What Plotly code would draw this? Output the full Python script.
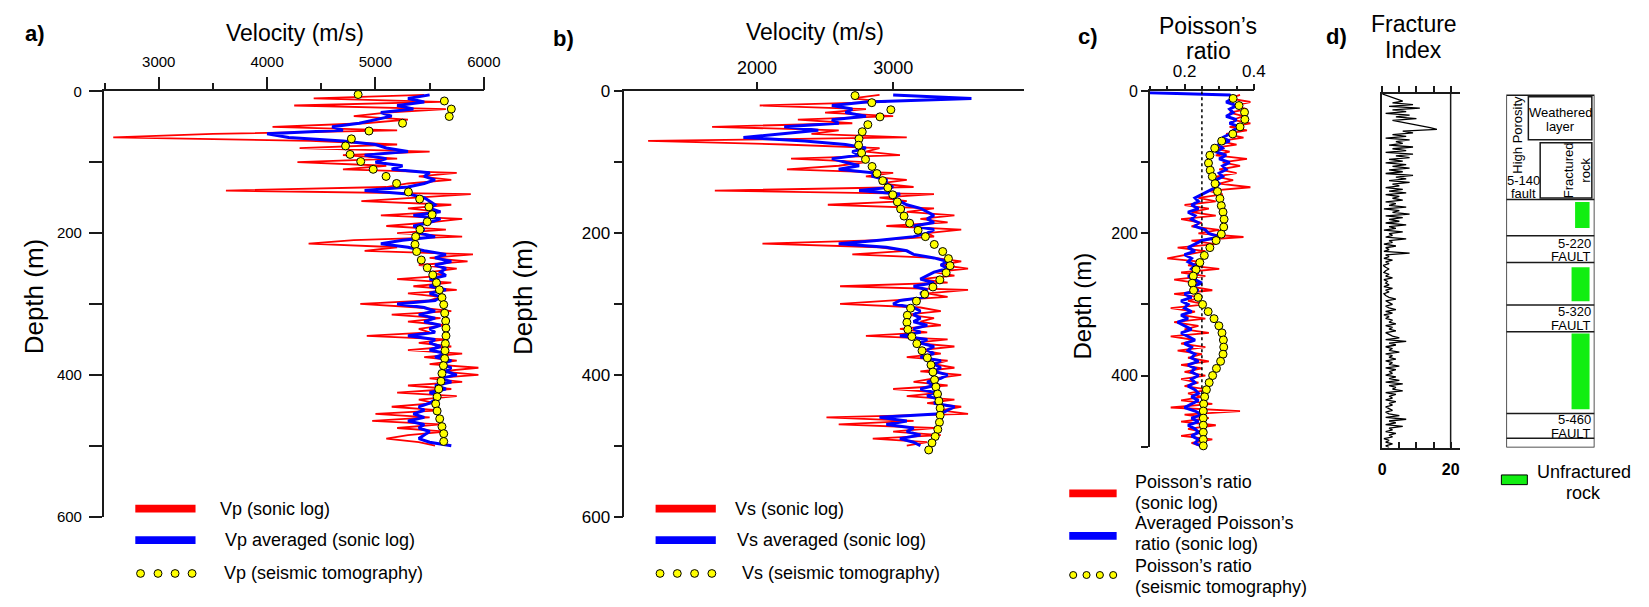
import plotly.graph_objects as go

W, H = 1649, 607
FONT = "Arial, 'Liberation Sans', sans-serif"
INK = "#1a1a1a"
RED, BLUE, YEL, GREEN = "#ff0000", "#0000ff", "#ffff00", "#11ee11"

# ---------------- data ----------------
depth = list(range(5, 505, 5))  # sonic-log sampling depths (m)

vp_sonic = [5450, 4430, 5600, 4250, 5650, 5100, 4800, 5300, 4900, 4050,
            5200, 3500, 2580, 4400, 5200, 4300, 5500, 4700, 5200, 4280,
            5100, 4700, 5750, 5400, 5700, 5300, 5100, 3620, 5880, 5400,
            4870, 5700, 5300, 5600, 5050, 5800, 5500, 5100, 5650, 5200,
            5800, 4800, 4383, 5200, 4900, 5900, 5500, 5850, 5400, 5750,
            5500, 5650, 5200, 5700, 5350, 5750, 5300, 5600, 5500, 4860,
            5400, 5700, 5150, 5600, 5300, 5650, 5400, 5500, 4920, 5650,
            5400, 5700, 5300, 5800, 5450, 5750, 5500, 5950, 5600, 5950,
            5500, 5800, 5300, 5700, 5200, 5750, 5400, 5550, 5150, 5600,
            5000, 5500, 4970, 5600, 5200, 5650, 5300, 5100, 5400, 5550]

vp_avg = [5500, 5300, 5450, 5200, 5350, 5050, 5150, 5000, 4850, 4600,
          4700, 4000, 4200, 4700, 5000, 5100, 5300, 4900, 5100, 5000,
          5250, 5150, 5500, 5450, 5550, 5450, 5300, 4900, 5300, 5450,
          5500, 5550, 5500, 5600, 5350, 5600, 5500, 5350, 5450, 5400,
          5550, 5250, 5050, 5300, 5450, 5650, 5550, 5700, 5550, 5650,
          5600, 5650, 5500, 5600, 5500, 5650, 5500, 5600, 5550, 5200,
          5450, 5550, 5400, 5550, 5450, 5600, 5500, 5550, 5300, 5550,
          5500, 5600, 5500, 5650, 5550, 5700, 5600, 5700, 5650, 5750,
          5600, 5700, 5550, 5650, 5500, 5600, 5550, 5500, 5400, 5450,
          5350, 5450, 5300, 5450, 5400, 5500, 5450, 5400, 5500, 5700]

vp_tomo_depth = [4.5, 13.6, 25, 35.5, 45, 56, 67, 77, 89, 99,
                 110, 120, 130, 142, 152, 163, 174, 184, 195, 205,
                 216, 226, 238, 249, 259, 270, 280, 291, 301, 313,
                 324, 334, 345, 356, 366, 377, 387, 398, 409, 420,
                 431, 441, 451, 462, 473, 483, 494]
vp_tomo = [4840, 5636, 5700, 5681, 5250, 4940, 4778, 4724, 4766, 4864,
           4979, 5098, 5195, 5304, 5408, 5493, 5523, 5478, 5411, 5371,
           5365, 5380, 5423, 5478, 5529, 5563, 5590, 5614, 5630, 5639,
           5648, 5651, 5651, 5645, 5642, 5639, 5627, 5614, 5605, 5584,
           5569, 5556, 5569, 5593, 5614, 5630, 5630]

vs_sonic = [2900, 2700, 2950, 2020, 2800, 2500, 3000, 2300, 2700, 1670,
            2600, 2400, 3100, 1200, 2200, 2900, 2800, 3050, 2250, 2800,
            2600, 2220, 3000, 2800, 3100, 2900, 3150, 1690, 3300, 2900,
            3100, 2520, 3300, 3100, 3450, 3200, 3400, 2950, 3500, 3250,
            3300, 2900, 2040, 2900, 3100, 2700, 3300, 3500, 3350, 3550,
            3300, 3450, 3200, 3400, 2610, 3550, 3250, 3400, 3000, 2610,
            3200, 3350, 3100, 3300, 3200, 3350, 3050, 3250, 2800, 3400,
            3150, 3450, 3200, 3350, 3100, 3400, 3300, 3450, 3200, 3500,
            3300, 3150, 3400, 3000, 3350, 3100, 3450, 3250, 3500, 3350,
            3550, 2510, 3150, 2600, 3300, 3000, 3350, 2850, 3250, 3100]

vs_avg = [3000, 3575, 2800, 2550, 2700, 2650, 2800, 2550, 2600, 2200,
          2450, 2200, 1900, 2350, 2650, 2800, 2700, 2750, 2550, 2650,
          2750, 2600, 2850, 2850, 2950, 2950, 3000, 2750, 3050, 3000,
          3050, 3100, 3200, 3250, 3300, 3250, 3300, 3150, 3300, 3250,
          3150, 2900, 2600, 2950, 3100, 3150, 3300, 3400, 3350, 3400,
          3300, 3250, 3200, 3300, 3150, 3250, 3200, 3250, 3050, 3000,
          3150, 3200, 3150, 3200, 3150, 3250, 3150, 3200, 3050, 3250,
          3200, 3300, 3250, 3300, 3200, 3350, 3300, 3350, 3300, 3400,
          3350, 3250, 3300, 3200, 3300, 3250, 3350, 3300, 3450, 3400,
          3350, 2900, 3100, 2950, 3150, 3100, 3200, 3050, 3150, 3200]

vs_tomo_depth = [6, 16, 26, 36, 47, 57, 67, 76, 87, 96,
                 106, 116, 126, 136, 146, 156, 166, 176, 186, 196,
                 205, 216, 226, 236, 246, 256, 266, 276, 286, 296,
                 306, 316, 326, 336, 346, 356, 366, 376, 386, 396,
                 407, 417, 427, 437, 447, 457, 467, 477, 487, 496, 506]
vs_tomo = [2720, 2843, 2983, 2903, 2814, 2773, 2749, 2746, 2768, 2797,
           2845, 2881, 2923, 2961, 2997, 3031, 3055, 3080, 3121, 3183,
           3237, 3302, 3364, 3406, 3418, 3389, 3343, 3292, 3232, 3171,
           3128, 3104, 3101, 3108, 3137, 3174, 3212, 3251, 3278, 3292,
           3304, 3314, 3326, 3336, 3345, 3345, 3340, 3328, 3309, 3285, 3261]

pr_sonic = [0.36, 0.33, 0.39, 0.34, 0.38, 0.33, 0.37, 0.34, 0.39, 0.33,
            0.38, 0.32, 0.37, 0.30, 0.35, 0.28, 0.33, 0.29, 0.38, 0.31,
            0.36, 0.30, 0.35, 0.29, 0.34, 0.30, 0.39, 0.27, 0.31, 0.24,
            0.29, 0.20, 0.27, 0.22, 0.29, 0.19, 0.25, 0.22, 0.30, 0.24,
            0.37, 0.22, 0.29, 0.18, 0.26, 0.20, 0.15, 0.25, 0.21, 0.30,
            0.19, 0.26, 0.17, 0.24, 0.22, 0.28, 0.17, 0.25, 0.21, 0.26,
            0.16, 0.23, 0.19, 0.26, 0.17, 0.24, 0.20, 0.27, 0.16, 0.23,
            0.19, 0.26, 0.18, 0.25, 0.21, 0.27, 0.19, 0.25, 0.20, 0.26,
            0.19, 0.24, 0.20, 0.27, 0.21, 0.25, 0.19, 0.28, 0.16, 0.36,
            0.20, 0.27, 0.19, 0.29, 0.21, 0.26, 0.19, 0.28, 0.22, 0.25]

pr_avg_depth = [2] + depth
pr_avg = [0.10,
          0.33, 0.34, 0.32, 0.35, 0.33, 0.34, 0.32, 0.35, 0.33, 0.36,
          0.34, 0.33, 0.31, 0.33, 0.30, 0.31, 0.29, 0.32, 0.30, 0.33,
          0.31, 0.32, 0.30, 0.31, 0.29, 0.30, 0.29, 0.27, 0.25, 0.23,
          0.24, 0.22, 0.24, 0.21, 0.23, 0.22, 0.24, 0.23, 0.26, 0.27,
          0.30, 0.25, 0.23, 0.21, 0.23, 0.20, 0.22, 0.21, 0.23, 0.22,
          0.24, 0.21, 0.23, 0.25, 0.22, 0.24, 0.20, 0.22, 0.19, 0.21,
          0.20, 0.22, 0.19, 0.21, 0.18, 0.20, 0.22, 0.19, 0.21, 0.23,
          0.20, 0.22, 0.21, 0.23, 0.22, 0.24, 0.21, 0.23, 0.22, 0.24,
          0.22, 0.23, 0.21, 0.23, 0.24, 0.22, 0.24, 0.22, 0.20, 0.23,
          0.25, 0.22, 0.24, 0.21, 0.23, 0.24, 0.22, 0.24, 0.23, 0.25]

pr_tomo_depth = [10, 20, 29.5, 39.5, 50, 60, 70, 80, 90, 101,
                 111, 120, 130, 141, 151, 161, 170, 180, 191, 201,
                 210, 220, 231, 241, 251, 260, 270, 280, 290, 300,
                 310, 320, 330, 340, 350, 360, 370, 380, 390, 400,
                 410, 420, 430, 440, 450, 460, 470, 480, 490, 499]
pr_tomo = [0.340, 0.357, 0.373, 0.374, 0.360, 0.339, 0.307, 0.287, 0.273, 0.269,
           0.274, 0.280, 0.288, 0.295, 0.302, 0.306, 0.311, 0.314, 0.313, 0.306,
           0.291, 0.273, 0.257, 0.244, 0.233, 0.225, 0.222, 0.226, 0.239, 0.252,
           0.268, 0.285, 0.299, 0.308, 0.312, 0.313, 0.311, 0.304, 0.292, 0.281,
           0.271, 0.263, 0.258, 0.255, 0.254, 0.254, 0.254, 0.254, 0.254, 0.254]
pr_reference = 0.25  # dashed reference line

fi_depth = [2.5 * i for i in range(201)]
fracture_index = [0,
    1.5, 3, 4.5, 6, 3, 9, 2, 11, 3, 7, 1, 8, 4, 10, 3, 6, 9, 12, 14, 16,
    6, 9, 3, 7, 1, 8, 4, 6, 2, 9, 3, 7, 1, 9, 4, 8, 2, 6, 1, 7,
    3, 8, 2, 6, 1, 9, 4, 7, 2, 8, 3, 5, 1, 6, 2, 7, 1, 5, 3, 6,
    1, 4, 2, 7, 0.5, 5, 3, 8, 1, 6, 2, 5, 1, 7, 2, 4, 0.5, 6, 2, 3,
    1, 7, 2, 3, 0.5, 4, 1, 2, 0.5, 8, 1, 2, 0.5, 3, 1, 2, 0.3, 1, 2, 1,
    0.5, 2, 1, 3, 0.5, 1.5, 1, 2, 0.5, 3, 1, 2, 0.5, 1, 2, 4, 1, 2, 3, 1,
    2, 4, 1, 3, 0.5, 2, 1, 3, 2, 4, 1, 3, 2, 4, 1, 2, 3, 5, 1, 7,
    2, 4, 1, 3, 2, 5, 1, 3, 2, 4, 1, 3, 2, 5, 1, 4, 2, 3, 1, 4,
    2, 5, 1, 6, 2, 4, 3, 6, 1, 4, 2, 3, 1, 4, 2, 3, 1, 2, 3, 1,
    2, 5, 1, 7, 2, 4, 1, 6, 2, 3, 1, 4, 2, 3, 0.5, 2, 1, 3, 1, 2]

# lithology column (depths in m)
litho_top, litho_bottom = 1.8, 500
litho_boundaries = [149.3, 200.4, 238.4, 298.6, 336.4, 452, 487]
unfractured_top = [152.9, 245, 338.8]
unfractured_bottom = [189.5, 293, 446]
weathered_interval = [4.1, 64.8]
fractured_interval = [69, 147]

# ---------------- helpers ----------------
def px(x):
    return x / W

def py(y):
    return 1 - y / H

def axstyle(size, **kw):
    d = dict(showline=True, linecolor=INK, linewidth=1.5, ticks="outside",
             tickcolor=INK, tickwidth=1.5, showgrid=False, zeroline=False,
             tickfont=dict(family=FONT, size=size, color="black"))
    d.update(kw)
    return d

def minor(vals, length):
    return dict(tickvals=vals, ticks="outside", ticklen=length, tickwidth=1.5,
                tickcolor=INK, showgrid=False)

def ann(text, x, y, size, bold=False, xanchor="center", angle=0, align="center"):
    if bold:
        text = "<b>" + text + "</b>"
    return dict(text=text, x=px(x), y=py(y), xref="paper", yref="paper",
                showarrow=False, xanchor=xanchor, yanchor="middle",
                textangle=angle, align=align,
                font=dict(family=FONT, size=size, color="black"))

fig = go.Figure()

def line(x, y, color, width, xa, ya, dash=None):
    fig.add_trace(go.Scatter(x=x, y=y, mode="lines", xaxis=xa, yaxis=ya,
                             line=dict(color=color, width=width, dash=dash),
                             showlegend=False, hoverinfo="skip"))

def dots(x, y, xa, ya):
    fig.add_trace(go.Scatter(x=x, y=y, mode="markers", xaxis=xa, yaxis=ya,
                             marker=dict(color=YEL, size=8,
                                         line=dict(color="black", width=1)),
                             showlegend=False, hoverinfo="skip", cliponaxis=False))

# panel a
line(vp_sonic, depth, RED, 1.8, "x", "y")
line(vp_avg, depth, BLUE, 3, "x", "y")
dots(vp_tomo, vp_tomo_depth, "x", "y")
# panel b
line(vs_sonic, depth, RED, 1.8, "x2", "y2")
line(vs_avg, depth, BLUE, 3, "x2", "y2")
dots(vs_tomo, vs_tomo_depth, "x2", "y2")
# panel c
line(pr_sonic, depth, RED, 1.8, "x3", "y3")
line(pr_avg, pr_avg_depth, BLUE, 3, "x3", "y3")
line([pr_reference, pr_reference], [0, 500], "black", 1.5, "x3", "y3", dash="dot")
dots(pr_tomo, pr_tomo_depth, "x3", "y3")
# panel d
line(fracture_index, fi_depth, "black", 1.3, "x4", "y4")
fig.add_trace(go.Scatter(x=[None], y=[None], xaxis="x5", yaxis="y4", showlegend=False))
fig.add_trace(go.Scatter(x=[None], y=[None], xaxis="x6", yaxis="y6", showlegend=False))

yd_ab = [py(524), py(85)]
yd_c = [py(451.7), py(85)]
yd_d = [py(452.7), py(87.7)]

layout = dict(
    width=W, height=H, margin=dict(l=0, r=0, t=0, b=0),
    paper_bgcolor="white", plot_bgcolor="rgba(0,0,0,0)", showlegend=False,
    font=dict(family=FONT, color="black"),
    xaxis=axstyle(15, domain=[px(101), px(486)], range=[2492, 6000], side="top",
                  anchor="y", ticklen=13, tickvals=[3000, 4000, 5000, 6000],
                  minor=minor([2500, 3500, 4500, 5500], 7), ticklabelstandoff=4),
    yaxis=axstyle(15, domain=yd_ab, range=[600, 0], anchor="x", ticklen=13,
                  tickvals=[0, 200, 400, 600], minor=minor([100, 300, 500], 13),
                  ticklabelstandoff=4),
    xaxis2=axstyle(18, domain=[px(628.3), px(1033)], range=[1025, 3960], side="top",
                   anchor="y2", ticklen=8, tickvals=[2000, 3000]),
    yaxis2=axstyle(17, domain=yd_ab, range=[600, 0], anchor="x2", ticklen=9,
                   tickvals=[0, 200, 400, 600], minor=minor([100, 300, 500], 9)),
    xaxis3=axstyle(17, domain=[px(1160.7), px(1266)], range=[0.1, 0.4], side="top",
                   anchor="y3", ticklen=6, tickvals=[0.2, 0.4], ticktext=["0.2", "0.4"],
                   minor=minor([0.1, 0.15, 0.25, 0.3, 0.35], 4)),
    yaxis3=axstyle(16, domain=yd_c, range=[500, 0], anchor="x3", ticklen=7,
                   tickvals=[0, 200, 400], minor=minor([100, 300, 500], 7)),
    xaxis4=axstyle(14, domain=[px(1396), px(1475)], range=[0, 22.8], side="top",
                   anchor="y4", ticklen=6, tickvals=[0, 5, 10, 15, 20],
                   showticklabels=False),
    xaxis5=axstyle(16, overlaying="x4", range=[0, 22.8], side="bottom", anchor="y4",
                   ticks="inside", ticklen=6, tickvals=[0, 5, 10, 15, 20],
                   ticktext=["<b>0</b>", "", "", "", "<b>20</b>"], ticklabelstandoff=7),
    yaxis4=axstyle(14, domain=yd_d, range=[500, 0], anchor="x4", ticks="",
                   showticklabels=False),
    xaxis6=dict(domain=[px(1521.7), px(1611)], range=[0, 1], visible=False, anchor="y6"),
    yaxis6=dict(domain=yd_d, range=[500, 0], visible=False, anchor="x6"),
)
fig.update_layout(**layout)

shapes = []
# fracture index right border at 20
shapes.append(dict(type="line", xref="x4", yref="y4", x0=20, x1=20, y0=0, y1=500,
                   line=dict(color=INK, width=1.5)))
# lithology column
L = dict(color=INK, width=1.5)
shapes.append(dict(type="rect", xref="x6", yref="y6", x0=0, x1=1,
                   y0=litho_top, y1=litho_bottom, line=L))
for d in litho_boundaries:
    shapes.append(dict(type="line", xref="x6", yref="y6", x0=0, x1=1, y0=d, y1=d, line=L))
shapes.append(dict(type="rect", xref="x6", yref="y6", x0=0.25, x1=0.97,
                   y0=weathered_interval[0], y1=weathered_interval[1], line=L))
shapes.append(dict(type="rect", xref="x6", yref="y6", x0=0.384, x1=0.97,
                   y0=fractured_interval[0], y1=fractured_interval[1], line=L))
green_x = [(0.78, 0.944), (0.74, 0.944), (0.74, 0.944)]
for (gx0, gx1), t, b in zip(green_x, unfractured_top, unfractured_bottom):
    shapes.append(dict(type="rect", xref="x6", yref="y6", x0=gx0, x1=gx1, y0=t, y1=b,
                       fillcolor=GREEN, line=dict(width=0)))

# legend glyphs (paper coordinates from pixel positions)
def bar(x0, x1, yc, color, h=8, border=None):
    shapes.append(dict(type="rect", xref="paper", yref="paper",
                       x0=px(x0), x1=px(x1), y0=py(yc + h / 2), y1=py(yc - h / 2),
                       fillcolor=color,
                       line=dict(width=1 if border else 0, color=border or color)))

def circles(xs, yc, r=4):
    for xc in xs:
        shapes.append(dict(type="circle", xref="paper", yref="paper",
                           x0=px(xc - r), x1=px(xc + r), y0=py(yc + r), y1=py(yc - r),
                           fillcolor=YEL, line=dict(color="black", width=1)))

bar(133, 194, 515.7, RED)
bar(133, 194, 548.3, BLUE)
circles([138.3, 156, 173.3, 190.5], 582.7)
bar(660, 721, 515.7, RED)
bar(660, 721, 548.3, BLUE)
circles([664.5, 682, 699.5, 717], 582.7)
bar(1079, 1127, 500, RED)
bar(1079, 1127, 544, BLUE)
circles([1083, 1096.5, 1110, 1123.5], 584.3, r=3.6)
bar(1516.7, 1543, 486, GREEN, h=10, border="black")

annotations = [
    ann("a)", 31, 25, 22, bold=True),
    ann("Velocity (m/s)", 295, 25, 23),
    ann("b)", 567, 30, 22, bold=True),
    ann("Velocity (m/s)", 821, 24, 23),
    ann("c)", 1098, 28, 22, bold=True),
    ann("Poisson\u2019s", 1220, 18, 23),
    ann("ratio", 1220, 43, 23),
    ann("d)", 1350, 28, 22, bold=True),
    ann("Fracture", 1428, 16, 23),
    ann("Index", 1428, 42, 23),
    ann("Depth (m)", 30, 297, 26, angle=-90),
    ann("Depth (m)", 525, 297, 26, angle=-90),
    ann("Depth (m)", 1092, 307, 24, angle=-90),
    # legends
    ann("Vp (sonic log)", 216.7, 515.7, 18, xanchor="left"),
    ann("Vp averaged (sonic log)", 221.7, 548.3, 18, xanchor="left"),
    ann("Vp (seismic tomography)", 220.7, 582.7, 18, xanchor="left"),
    ann("Vs (sonic log)", 738, 515.7, 18, xanchor="left"),
    ann("Vs averaged (sonic log)", 740, 548.3, 18, xanchor="left"),
    ann("Vs (seismic tomography)", 745, 582.7, 18, xanchor="left"),
    ann("Poisson\u2019s ratio", 1144, 488.3, 18, xanchor="left"),
    ann("(sonic log)", 1144, 510, 18, xanchor="left"),
    ann("Averaged Poisson\u2019s", 1144, 531, 18, xanchor="left"),
    ann("ratio (sonic log)", 1144, 552, 18, xanchor="left"),
    ann("Poisson\u2019s ratio", 1144, 575, 18, xanchor="left"),
    ann("(seismic tomography)", 1144, 596.7, 18, xanchor="left"),
    ann("Unfractured", 1600, 478.3, 18),
    ann("rock", 1600, 499.3, 18),
    # lithology labels
    ann("Weathered", 1576.7, 106.7, 13),
    ann("layer", 1576.7, 121.7, 13),
    ann("High Porosity", 1533.3, 130, 13, angle=-90),
    ann("Fractured<br>rock", 1594, 166.7, 13, angle=-90),
    ann("5-140", 1539, 176.7, 13),
    ann("fault", 1539, 190, 13),
    ann("5-220", 1609, 241.7, 13, xanchor="right"),
    ann("FAULT", 1609, 255, 13, xanchor="right"),
    ann("5-320", 1609, 312.3, 13, xanchor="right"),
    ann("FAULT", 1609, 326.7, 13, xanchor="right"),
    ann("5-460", 1609, 423.3, 13, xanchor="right"),
    ann("FAULT", 1609, 438.3, 13, xanchor="right"),
]

fig.update_layout(shapes=shapes, annotations=annotations)
fig.write_html("out.html")
